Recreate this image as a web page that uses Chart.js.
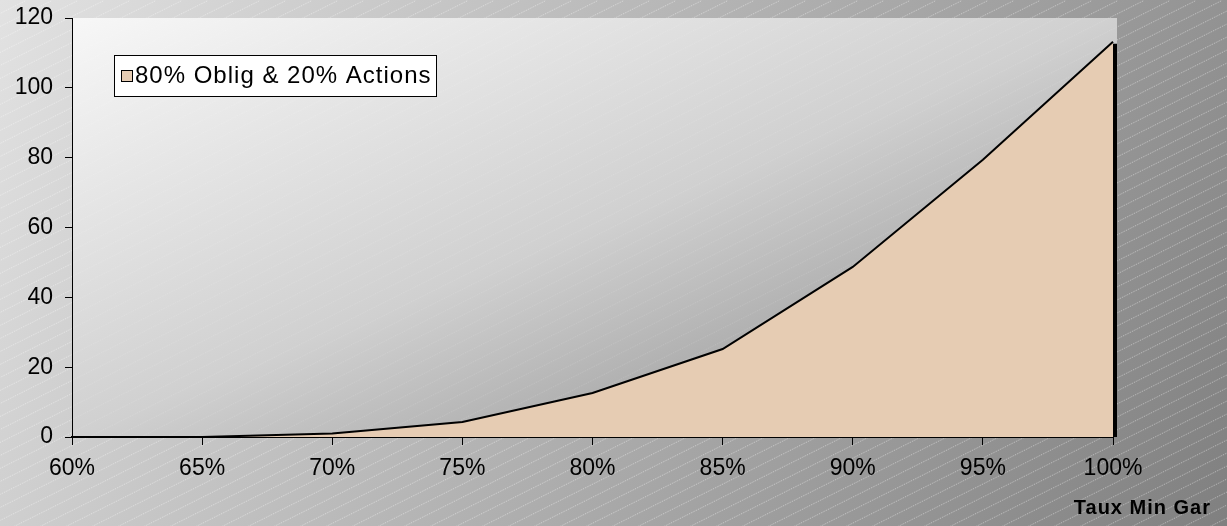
<!DOCTYPE html>
<html>
<head>
<meta charset="utf-8">
<script src="https://cdn.jsdelivr.net/npm/chart.js@4.4.1/dist/chart.umd.min.js"></script>
<style>
html, body { margin: 0; padding: 0; background: #fff; }
#wrap { width: 1227px; height: 526px; }
</style>
</head>
<body>
<div id="wrap"><canvas id="myChart" width="1227" height="526"></canvas></div>
<script>
var categories = ['60%', '65%', '70%', '75%', '80%', '85%', '90%', '95%', '100%'];
var valeurs = [0, 0, 1, 4.3, 12.6, 25.2, 48.7, 79.4, 113.2];
var serieLabel = '80% Oblig & 20% Actions';
var axeTitre = 'Taux Min Gar';
var yMin = 0, yMax = 120, yPas = 20;

var police = '"Liberation Sans", Arial, sans-serif';
var couleurAire = '#e6ccb3';

// hachures diagonales en pointillés (motif Excel)
function hachures(ctx, x0, y0, w, h, couleur, W, H) {
    ctx.save();
    ctx.beginPath();
    ctx.rect(x0, y0, w, h);
    ctx.clip();
    ctx.strokeStyle = couleur;
    ctx.lineWidth = 1;
    ctx.setLineDash([1, 1]);
    for (var k = -2 * H; k < W + 2 * H; k += 26) {
        ctx.beginPath();
        ctx.moveTo(k, H + 0.5);
        ctx.lineTo(k + 2 * H, 0.5);
        ctx.stroke();
    }
    ctx.restore();
}

var fondPlugin = {
    id: 'fond',
    beforeDraw: function (chart) {
        var ctx = chart.ctx;
        var W = chart.width, H = chart.height;
        // fond exterieur
        var g = ctx.createLinearGradient(0, 0, W, 1.3 * H);
        g.addColorStop(0, '#e2e2e2');
        g.addColorStop(1, '#7a7a7a');
        ctx.save();
        ctx.fillStyle = g;
        ctx.fillRect(0, 0, W, H);
        ctx.restore();
        hachures(ctx, 0, 0, W, H, 'rgba(255,255,255,0.45)', W, H);

        // zone de traçage
        var a = chart.chartArea;
        var w = a.right + 4 - a.left, h = a.bottom - a.top;
        var s = 2 * w * h / (h * h + w * w);
        var g2 = ctx.createLinearGradient(a.left, a.top, a.left + s * h, a.top + s * w);
        g2.addColorStop(0, '#f7f7f7');
        g2.addColorStop(0.5, '#d0d0d0');
        g2.addColorStop(0.75, '#a9a9a9');
        g2.addColorStop(1, '#909090');
        ctx.save();
        ctx.fillStyle = g2;
        ctx.fillRect(a.left, a.top, w, h);
        ctx.restore();
        hachures(ctx, a.left, a.top, w, h, 'rgba(255,255,255,0.15)', W, H);
    },
    afterDatasetsDraw: function (chart) {
        var ctx = chart.ctx;
        var xs = chart.scales.x, ys = chart.scales.y;
        var n = valeurs.length - 1;
        var x = xs.getPixelForValue(n);
        var yh = ys.getPixelForValue(valeurs[n]);
        ctx.save();
        ctx.fillStyle = '#000';
        ctx.fillRect(x, yh + 2, 4, ys.getPixelForValue(0) - yh - 2);
        ctx.restore();
    },
    afterDraw: function (chart) {
        var ctx = chart.ctx;
        ctx.save();
        // legende
        ctx.fillStyle = '#fff';
        ctx.fillRect(114, 55, 322, 41);
        ctx.strokeStyle = '#000';
        ctx.lineWidth = 1;
        ctx.strokeRect(114.5, 55.5, 322, 41);
        ctx.fillStyle = couleurAire;
        ctx.fillRect(121, 70, 11, 11);
        ctx.strokeRect(121.5, 70.5, 11, 11);
        ctx.fillStyle = '#000';
        ctx.font = '24px ' + police;
        ctx.letterSpacing = '1px';
        ctx.textBaseline = 'middle';
        ctx.textAlign = 'left';
        ctx.fillText(chart.data.datasets[0].label, 135, 76);
        // titre de l'axe x
        ctx.letterSpacing = '1px';
        ctx.font = 'bold 20px ' + police;
        ctx.textAlign = 'right';
        ctx.fillText(axeTitre, 1211, 508);
        ctx.restore();
    }
};

var ctx = document.getElementById('myChart').getContext('2d');
var myChart = new Chart(ctx, {
    type: 'line',
    data: {
        labels: categories,
        datasets: [{
            label: serieLabel,
            data: valeurs,
            fill: 'origin',
            backgroundColor: couleurAire,
            borderColor: '#000',
            borderWidth: 2,
            pointRadius: 0,
            tension: 0
        }]
    },
    options: {
        responsive: false,
        animation: false,
        layout: { padding: { top: 18, right: 114, bottom: 0, left: 0 } },
        plugins: {
            legend: { display: false },
            tooltip: { enabled: false }
        },
        scales: {
            x: {
                offset: false,
                grid: { display: true, drawOnChartArea: false, drawTicks: true, tickLength: 8, color: '#000' },
                border: { display: true, color: '#000', width: 2 },
                ticks: { color: '#000', font: { size: 23, family: police }, padding: 10, maxRotation: 0, autoSkip: false },
                afterFit: function (scale) { scale.height = 89; }
            },
            y: {
                min: yMin,
                max: yMax,
                grid: { display: true, drawOnChartArea: false, drawTicks: true, tickLength: 7, color: '#000' },
                border: { display: true, color: '#000', width: 1 },
                ticks: { stepSize: yPas, color: '#000', font: { size: 23, family: police }, padding: 12 },
                afterFit: function (scale) {
                    scale.width = 72;
                    scale.paddingTop = 0;
                    scale.paddingBottom = 0;
                }
            }
        }
    },
    plugins: [fondPlugin]
});
</script>
</body>
</html>
